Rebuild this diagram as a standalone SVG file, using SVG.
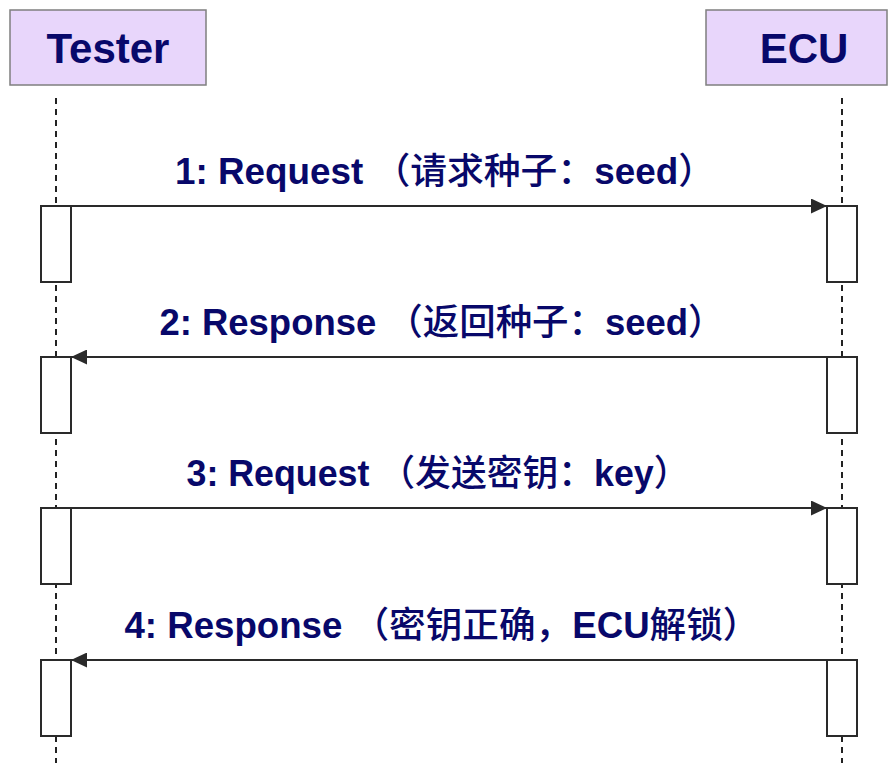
<svg xmlns="http://www.w3.org/2000/svg" width="888" height="763" viewBox="0 0 888 763">
<defs>
<style>
.head{fill:#E8D6FB;stroke:#7F7F7F;stroke-width:1.5}
.ht{font-family:"Liberation Sans","Noto Sans CJK SC",sans-serif;font-weight:bold;font-size:42px;fill:#08086A;text-anchor:middle}
.life{stroke:#222;stroke-width:2;stroke-dasharray:6,5;fill:none}
.act{fill:#fff;stroke:#2A2A2A;stroke-width:2}
.msg{stroke:#2A2A2A;stroke-width:2;fill:none;marker-end:url(#ah)}
.lt{font-family:"Liberation Sans","Noto Sans CJK SC",sans-serif;font-weight:bold;font-size:36px;fill:#08086A;text-anchor:middle}
.cj{font-weight:500}
</style>
<marker id="ah" markerWidth="16" markerHeight="15" refX="16" refY="7.5" orient="auto" markerUnits="userSpaceOnUse">
<path d="M0,0 L16,7.5 L0,15 Z" fill="#2A2A2A"/>
</marker>
</defs>
<g id="lifelines">
<line class="life" x1="56" y1="98" x2="56" y2="763"/>
<line class="life" x1="842" y1="98" x2="842" y2="763"/>
</g>
<g id="tester">
<rect class="head" x="10" y="10" width="196" height="75"/>
<text class="ht" x="108" y="63">Tester</text>
</g>
<g id="ecu">
<rect class="head" x="706" y="10" width="181" height="75"/>
<text class="ht" x="804" y="63">ECU</text>
</g>
<g id="activations">
<rect class="act" x="41" y="206" width="30" height="76"/>
<rect class="act" x="827" y="206" width="30" height="76"/>
<rect class="act" x="41" y="357" width="30" height="76"/>
<rect class="act" x="827" y="357" width="30" height="76"/>
<rect class="act" x="41" y="508" width="30" height="76"/>
<rect class="act" x="827" y="508" width="30" height="76"/>
<rect class="act" x="41" y="660" width="30" height="76"/>
<rect class="act" x="827" y="660" width="30" height="76"/>
</g>
<g id="connectors">
<line class="msg" x1="71" y1="206" x2="827" y2="206"/>
<line class="msg" x1="827" y1="357" x2="71" y2="357"/>
<line class="msg" x1="71" y1="508" x2="827" y2="508"/>
<line class="msg" x1="827" y1="660" x2="71" y2="660"/>
</g>
<g id="labels">
<text class="lt" x="445" y="184" textLength="540" lengthAdjust="spacingAndGlyphs">1: Request <tspan class="cj">（请求种子：</tspan>seed<tspan class="cj">）</tspan></text>
<text class="lt" x="442" y="335" textLength="565" lengthAdjust="spacingAndGlyphs">2: Response <tspan class="cj">（返回种子：</tspan>seed<tspan class="cj">）</tspan></text>
<text class="lt" x="438" y="486" textLength="503" lengthAdjust="spacingAndGlyphs">3: Request <tspan class="cj">（发送密钥：</tspan>key<tspan class="cj">）</tspan></text>
<text class="lt" x="442" y="638" textLength="635" lengthAdjust="spacingAndGlyphs">4: Response <tspan class="cj">（密钥正确，</tspan>ECU<tspan class="cj">解锁）</tspan></text>
</g>
</svg>
